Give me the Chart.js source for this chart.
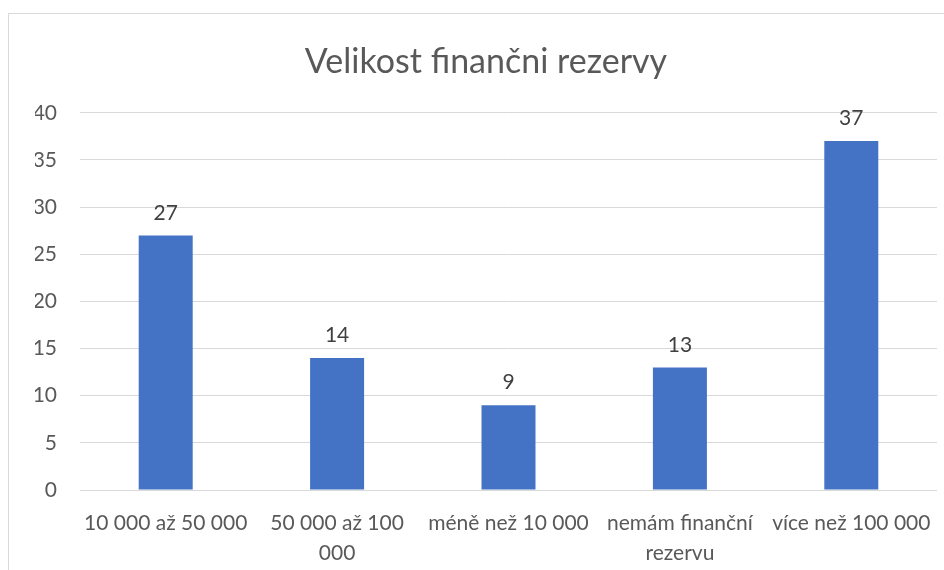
<!DOCTYPE html>
<html lang="cs">
<head>
  <meta charset="UTF-8">
  <title>Velikost finančni rezervy</title>
  <script src="https://cdn.jsdelivr.net/npm/chart.js"></script>
  <style>
    html, body { margin: 0; padding: 0; background: #fff; overflow: hidden; }
    .frame {
      position: absolute; left: 8px; top: 13px;
      width: 960px; height: 600px;
      border: 1px solid #d9d9d9;
    }
    .wrap { position: absolute; left: 0; top: 0; width: 944px; height: 570px; }
  </style>
</head>
<body>
  <div class="frame"></div>
  <div class="wrap"><canvas id="rezerva"></canvas></div>

  <script>
    const categories = [
      "10 000 až 50 000",
      ["50 000 až 100", "000"],
      "méně než 10 000",
      ["nemám finanční", "rezervu"],
      "více než 100 000"
    ];
    const counts = [27, 14, 9, 13, 37];
    const yTicks = [0, 5, 10, 15, 20, 25, 30, 35, 40];

    const font = "Lato, 'Open Sans', sans-serif";

    // values above bars
    const barValues = {
      id: "barValues",
      afterDatasetsDraw(chart) {
        const ctx = chart.ctx;
        const meta = chart.getDatasetMeta(0);
        ctx.save();
        ctx.font = "21px " + font;
        ctx.fillStyle = "#404040";
        ctx.textAlign = "center";
        ctx.textBaseline = "bottom";
        meta.data.forEach((bar, i) => {
          ctx.fillText(counts[i], bar.x, bar.y - 12);
        });
        ctx.restore();
      }
    };

    new Chart(document.getElementById("rezerva"), {
      type: "bar",
      data: {
        labels: categories,
        datasets: [{
          data: counts,
          backgroundColor: "#4472c4",
          barPercentage: 0.315,
          categoryPercentage: 1
        }]
      },
      options: {
        responsive: true,
        maintainAspectRatio: false,
        animation: false,
        layout: { padding: { left: 35, right: 7, top: 42, bottom: 3 } },
        plugins: {
          legend: { display: false },
          tooltip: { enabled: false },
          title: {
            display: true,
            text: "Velikost finančni rezervy",
            color: "#595959",
            font: { family: font, size: 34, weight: "normal", lineHeight: 1.2 },
            padding: { top: 0, bottom: 30 }
          }
        },
        scales: {
          x: {
            grid: { display: false },
            border: { display: false },
            afterFit: s => { s.height = 77; s.paddingLeft = 0; s.paddingRight = 0; },
            ticks: {
              color: "#595959",
              font: { family: font, size: 21, lineHeight: 1.43 },
              maxRotation: 0,
              autoSkip: false,
              padding: 10
            }
          },
          y: {
            min: 0,
            max: 40,
            afterBuildTicks: axis => { axis.ticks = yTicks.map(v => ({ value: v })); },
            afterFit: s => { s.width = 45; },
            grid: { color: "#d9d9d9", drawTicks: false },
            border: { display: false },
            ticks: {
              color: "#595959",
              font: { family: font, size: 21 },
              padding: 23
            }
          }
        }
      },
      plugins: [barValues]
    });
  </script>
</body>
</html>
